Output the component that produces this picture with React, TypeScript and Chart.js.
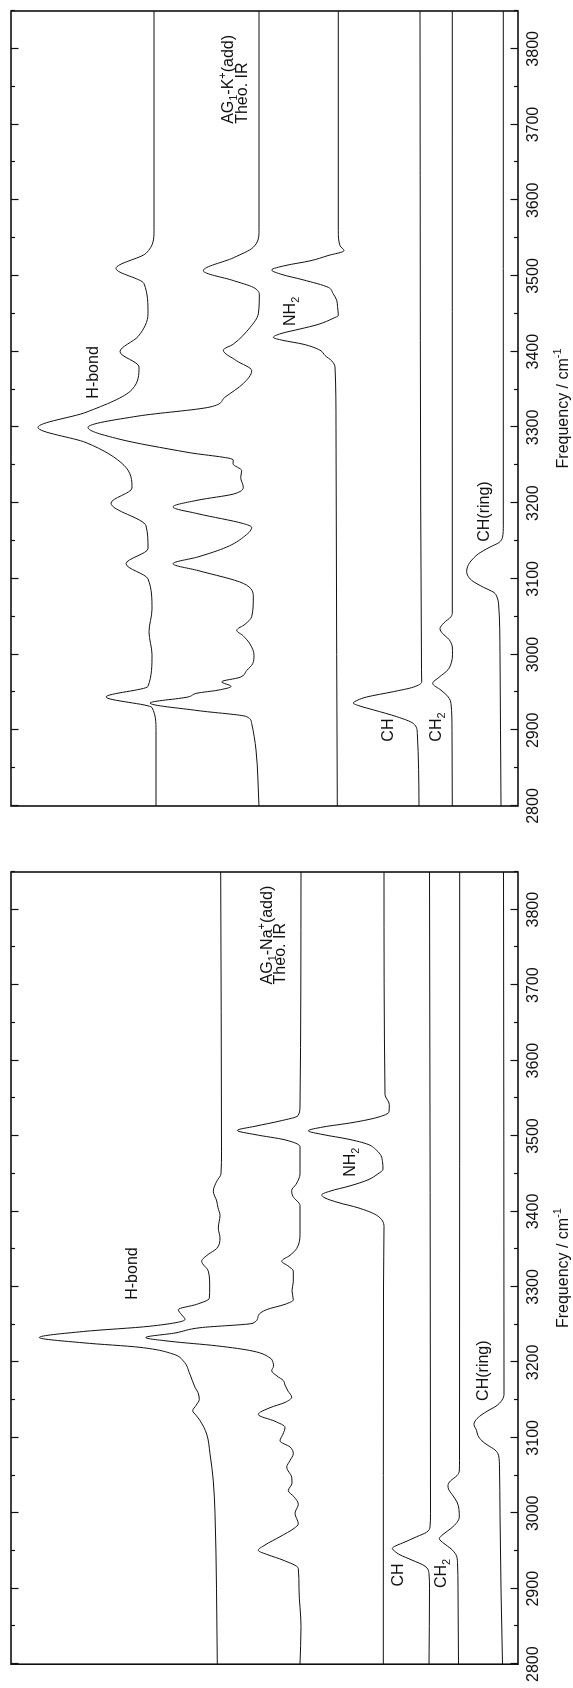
import React, { useEffect, useRef } from 'react';
import { Chart, registerables } from 'chart.js';

Chart.register(...registerables);

// ---------- axis ----------
const FREQ_MIN = 2800;
const FREQ_MAX = 3850;
const FREQ_STEP = 50;
const INT_MIN = 0;
const INT_MAX = 507;

// ---------- K+ panel (top) ----------
const kExpFreq = [2800, 2900, 2930, 2944, 2958, 3000, 3030, 3060, 3100, 3120, 3140, 3170, 3200, 3220, 3250, 3280, 3300, 3320, 3350, 3380, 3400, 3420, 3450, 3490, 3510, 3530, 3560, 3850];
const kExpVal = [362, 362, 366, 412, 370, 366, 369, 366, 370, 392, 370, 372, 407, 386, 394, 432, 480, 432, 386, 379, 398, 380, 370, 374, 402, 372, 364, 364];

const kTheoFreq = [2800, 2874, 2909, 2918, 2926, 2936, 2944, 2949, 2953, 2958, 2964, 2970, 2979, 2988, 2999, 3014, 3025, 3032, 3040, 3050, 3076, 3094, 3111, 3120, 3129, 3142, 3155, 3168, 3173, 3186, 3195, 3204, 3212, 3221, 3234, 3243, 3252, 3257, 3267, 3285, 3300, 3315, 3327, 3340, 3358, 3375, 3388, 3402, 3410, 3432, 3450, 3476, 3485, 3494, 3507, 3524, 3538, 3560, 3850];
const kTheoVal = [259, 262, 266.3, 271.3, 320, 368, 330, 321, 300, 287, 296.3, 278, 271.3, 265.3, 264, 268, 275, 281.3, 273, 266.3, 264.7, 274.7, 320, 345, 320, 291.3, 274.7, 266.3, 274.7, 320, 345, 320, 284.7, 274.7, 277.3, 276.3, 285, 284.7, 330, 400, 430, 380, 308, 293, 274.7, 266.3, 281.3, 294.7, 284.7, 268, 259.7, 258.7, 264.7, 284.7, 314.7, 284.7, 264.7, 259, 259];

const kNH2Freq = [2800, 3000, 3300, 3380, 3388, 3395, 3402, 3410, 3415, 3419, 3424, 3430, 3436, 3444, 3448, 3460, 3468, 3477, 3485, 3495, 3502, 3508, 3514, 3520, 3527, 3533.5, 3540, 3560, 3850];
const kNH2Val = [180.7, 181.3, 182, 183, 186.3, 193, 198, 215, 235, 244.7, 237, 218, 200, 185, 179.7, 180.5, 181.3, 185, 189.7, 215, 236, 246.3, 232, 208, 190, 174, 178, 179.7, 179.7];

const kCHFreq = [2800, 2896, 2909, 2918, 2927, 2932, 2936, 2940, 2944, 2951, 2957, 2964, 2980, 3850];
const kCHVal = [99, 100.7, 104.7, 121.3, 144.7, 158, 164.7, 160, 151.3, 124.7, 104.7, 96.3, 96.5, 98];

const kCH2Freq = [2800, 2900, 2935, 2944, 2953, 2962, 2970, 2980, 2990, 3000, 3010, 3020, 3028, 3034, 3042, 3050, 3056, 3850];
const kCH2Val = [65.7, 66, 67, 69.7, 77, 85.3, 79, 70, 66.5, 65.5, 65.7, 69, 75.5, 78, 74, 67, 65.7, 65.7];

const kRingFreq = [2800, 2900, 3000, 3068, 3076, 3082, 3089, 3098, 3105, 3110, 3116, 3122, 3128, 3133, 3142, 3148, 3155, 3170, 3850];
const kRingVal = [17, 17.5, 18, 19.5, 21, 24, 34.7, 46.3, 50.5, 51.3, 50.5, 48, 44, 39.7, 28, 19, 15.5, 14.7, 14.7];

// ---------- Na+ panel (bottom) ----------
const naExpFreq = [2800, 2900, 3000, 3043, 3079, 3105, 3123, 3130, 3136, 3143, 3151, 3160, 3167, 3184, 3202, 3211, 3220, 3226, 3233, 3241, 3248, 3257, 3263, 3270, 3277, 3285, 3300, 3321, 3334, 3343, 3351, 3365, 3378, 3395, 3405, 3414, 3427, 3440, 3450, 3480, 3850];
const naExpVal = [300.7, 301.5, 303, 304.7, 308, 311.3, 318, 322, 325.3, 322, 318.7, 320, 323, 328, 334.7, 344.7, 378, 435, 478.7, 434.7, 368, 333, 336.3, 339.7, 321.3, 308.7, 308.3, 309.7, 316.3, 310, 301.3, 298, 299.7, 298, 300, 301.3, 304.7, 301.3, 297, 296.5, 297.3];

const naTheoFreq = [2800, 2850, 2900, 2927, 2938, 2945, 2951, 2958, 2969, 2980, 2986, 3000, 3012, 3022, 3030, 3040, 3048, 3061, 3070, 3079, 3088, 3096, 3105, 3114, 3122, 3131, 3140, 3147, 3154, 3162, 3170, 3176, 3182, 3189, 3195, 3200, 3206, 3215, 3222, 3228, 3233, 3239, 3246, 3252, 3262, 3270, 3277, 3283, 3295, 3307, 3321, 3328, 3334, 3342, 3351, 3370, 3408, 3420, 3428, 3436, 3450, 3486, 3495, 3502, 3507.5, 3513, 3520, 3527, 3540, 3850];
const naTheoVal = [218, 217, 219, 219.7, 235, 250, 259.7, 253, 238, 224, 219.7, 223, 219.7, 224, 229.7, 226, 226.3, 231.3, 228, 224.7, 228, 238, 235, 233, 243, 259.7, 248, 233, 226.3, 230, 233, 234.7, 241, 246.3, 244.5, 245, 248, 265, 301.3, 348, 372.3, 343, 318, 265, 259.7, 251.3, 233, 224.7, 226, 224.7, 224.7, 230, 236.3, 228, 221.3, 218, 218, 225, 226.3, 222, 218, 218, 233, 263, 280.7, 263, 238, 220, 218, 217];

const naNH2Freq = [2800, 3300, 3380, 3395, 3405, 3412, 3418, 3422, 3427, 3434, 3442, 3450, 3456, 3466, 3474, 3481, 3489, 3496, 3502, 3507, 3512, 3518, 3525, 3532, 3542, 3555, 3850];
const naNH2Val = [134.7, 134.5, 134, 141.3, 160, 180, 193, 196.3, 188, 168, 150, 140, 135, 135.5, 137, 141.3, 150, 170, 195, 209.7, 195, 165, 140, 129, 128.7, 133, 134];

const naCHFreq = [2800, 2900, 2920, 2930, 2938, 2945, 2950, 2953.4, 2957, 2962, 2969, 2975, 2982, 3000, 3850];
const naCHVal = [89, 88.5, 89, 93, 106, 118, 123.5, 125.7, 122, 113, 101.3, 91.3, 88, 87.5, 88.5];

const naCH2Freq = [2800, 2900, 2935, 2945, 2953, 2960, 2966.6, 2972, 2980, 2988, 2995, 3005, 3015, 3025, 3032, 3037, 3043, 3050, 3056, 3070, 3850];
const naCH2Val = [59.5, 60, 60.5, 62, 67, 74, 78.7, 75, 67, 61, 58.7, 59, 61, 66, 69.5, 70, 67.5, 61, 58.7, 58.5, 58.3];

const naRingFreq = [2800, 2900, 3000, 3060, 3077, 3084, 3090, 3096, 3103, 3110, 3118, 3124, 3130, 3136, 3142, 3150, 3158, 3850];
const naRingVal = [15.5, 17, 18, 18.5, 19.5, 23, 30, 36, 40, 41.5, 44, 42, 37, 30, 22, 16, 14, 14.5];

// ---------- annotation texts (segments: [text, 0 normal | -1 sub | 1 sup]) ----------
type Seg = [string, number];
const kTitle1: Seg[] = [['AG', 0], ['1', -1], ['-K', 0], ['+', 1], ['(add)', 0]];
const naTitle1: Seg[] = [['AG', 0], ['1', -1], ['-Na', 0], ['+', 1], ['(add)', 0]];
const title2: Seg[] = [['Theo. IR', 0]];
const hbond: Seg[] = [['H-bond', 0]];
const nh2: Seg[] = [['NH', 0], ['2', -1]];
const ch: Seg[] = [['CH', 0]];
const ch2: Seg[] = [['CH', 0], ['2', -1]];
const chRing: Seg[] = [['CH(ring)', 0]];
const axisTitle: Seg[] = [['Frequency / cm', 0], ['-1', 1]];

type Ann = { segs: Seg[]; f: number; v: number };

const kAnns: Ann[] = [
  { segs: kTitle1, f: 3701, v: 285 },
  { segs: title2, f: 3701, v: 271 },
  { segs: hbond, f: 3338, v: 420 },
  { segs: nh2, f: 3434, v: 223 },
  { segs: ch, f: 2885, v: 125 },
  { segs: ch2, f: 2885, v: 77 },
  { segs: chRing, f: 3149, v: 29 },
];
const naAnns: Ann[] = [
  { segs: naTitle1, f: 3701, v: 246.5 },
  { segs: title2, f: 3701, v: 233 },
  { segs: hbond, f: 3283, v: 381 },
  { segs: nh2, f: 3446, v: 163 },
  { segs: ch, f: 2903, v: 114.7 },
  { segs: ch2, f: 2901, v: 72 },
  { segs: chRing, f: 3149, v: 30 },
];

const FONT = '"Liberation Sans", Arial, Helvetica, sans-serif';
const INK = '#111';

function pts(fs: number[], vs: number[]) {
  return fs.map((f, i) => ({ x: f, y: vs[i] }));
}

function drawSegs(ctx: CanvasRenderingContext2D, segs: Seg[], x: number, y: number, size: number, align: 'left' | 'center') {
  const widths = segs.map(([t, s]) => {
    ctx.font = `${s === 0 ? size : size * 0.68}px ${FONT}`;
    return ctx.measureText(t).width;
  });
  const total = widths.reduce((a, b) => a + b, 0);
  let cx = align === 'center' ? x - total / 2 : x;
  segs.forEach(([t, s], i) => {
    ctx.font = `${s === 0 ? size : size * 0.68}px ${FONT}`;
    const dy = s === -1 ? size * 0.28 : s === 1 ? -size * 0.42 : 0;
    ctx.fillText(t, cx, y + dy);
    cx += widths[i];
  });
}

function makeDeco(anns: Ann[]) {
  return {
    id: 'deco',
    afterDraw(chart: any) {
      const ctx: CanvasRenderingContext2D = chart.ctx;
      const xs = chart.scales.x;
      const ys = chart.scales.y;
      const { left, right, top, bottom } = chart.chartArea;
      ctx.save();
      ctx.strokeStyle = INK;
      ctx.lineWidth = 1.2;
      ctx.beginPath();
      for (const t of xs.ticks) {
        const px = Math.round(xs.getPixelForValue(t.value)) + 0.5;
        const len = t.value % 100 === 0 ? 7.5 : 4;
        ctx.moveTo(px, bottom);
        ctx.lineTo(px, bottom - len);
        ctx.moveTo(px, top);
        ctx.lineTo(px, top + len);
      }
      ctx.stroke();
      ctx.lineWidth = 1.6;
      ctx.strokeRect(left, top, right - left, bottom - top);
      ctx.fillStyle = INK;
      ctx.textBaseline = 'alphabetic';
      ctx.textAlign = 'left';
      for (const a of anns) {
        drawSegs(ctx, a.segs, xs.getPixelForValue(a.f), ys.getPixelForValue(a.v), 16, 'left');
      }
      drawSegs(ctx, axisTitle, (left + right) / 2, chart.height - 5, 16, 'center');
      ctx.restore();
    },
  };
}

function line(data: { x: number; y: number }[]) {
  return {
    data,
    showLine: true,
    borderColor: INK,
    borderWidth: 1,
    pointRadius: 0,
    cubicInterpolationMode: 'monotone' as const,
    fill: false,
  };
}

type PanelProps = { top: number; width: number; padLeft: number; padRight: number; series: { x: number; y: number }[][]; anns: Ann[] };

const H = 573;

function Panel({ top, width, padLeft, padRight, series, anns }: PanelProps) {
  const ref = useRef<HTMLCanvasElement | null>(null);
  useEffect(() => {
    if (!ref.current) return;
    const chart = new Chart(ref.current, {
      type: 'scatter',
      data: { datasets: series.map((s) => line(s)) as any },
      options: {
        animation: false,
        responsive: false,
        devicePixelRatio: 1,
        layout: { padding: { left: padLeft, right: padRight, top: 11, bottom: 0 } },
        plugins: { legend: { display: false }, tooltip: { enabled: false } },
        scales: {
          x: {
            type: 'linear',
            min: FREQ_MIN,
            max: FREQ_MAX,
            position: 'bottom',
            afterFit: (s: any) => {
              s.height = H - 518;
            },
            grid: { display: true, drawOnChartArea: false, drawTicks: false },
            border: { display: false },
            ticks: {
              stepSize: FREQ_STEP,
              autoSkip: false,
              maxRotation: 0,
              minRotation: 0,
              padding: 6,
              color: INK,
              font: { family: FONT, size: 16 },
              callback: (v: any) => (Number(v) % 100 === 0 ? String(v) : ''),
            },
          },
          y: {
            type: 'linear',
            min: INT_MIN,
            max: INT_MAX,
            display: false,
          },
        },
      },
      plugins: [makeDeco(anns)],
    } as any);
    return () => chart.destroy();
  }, []);
  return (
    <div
      style={{
        position: 'absolute',
        left: 0,
        top,
        width,
        height: H,
        transform: 'rotate(-90deg)',
        transformOrigin: '0 0',
      }}
    >
      <canvas ref={ref} width={width} height={H} style={{ display: 'block', width, height: H }} />
    </div>
  );
}

export default function App() {
  const kSeries = [
    pts(kExpFreq, kExpVal),
    pts(kTheoFreq, kTheoVal),
    pts(kNH2Freq, kNH2Val),
    pts(kCHFreq, kCHVal),
    pts(kCH2Freq, kCH2Val),
    pts(kRingFreq, kRingVal),
  ];
  const naSeries = [
    pts(naExpFreq, naExpVal),
    pts(naTheoFreq, naTheoVal),
    pts(naNH2Freq, naNH2Val),
    pts(naCHFreq, naCHVal),
    pts(naCH2Freq, naCH2Val),
    pts(naRingFreq, naRingVal),
  ];
  return (
    <div style={{ position: 'absolute', left: 0, top: 0, width: 573, height: 1688, overflow: 'hidden', background: '#fff' }}>
      <Panel top={840} width={840} padLeft={34} padRight={11} series={kSeries} anns={kAnns} />
      <Panel top={1688} width={848} padLeft={20} padRight={32} series={naSeries} anns={naAnns} />
    </div>
  );
}
